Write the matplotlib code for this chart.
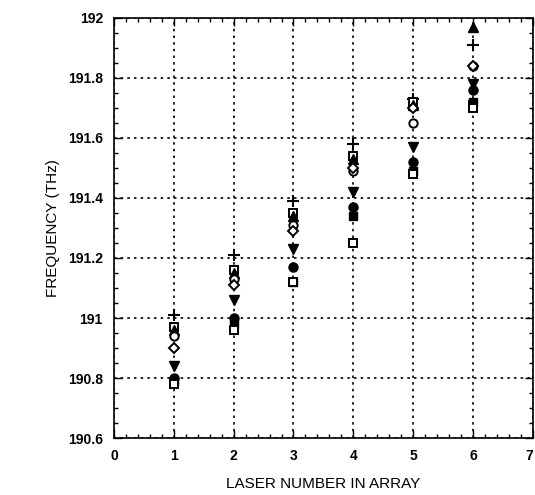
import matplotlib
matplotlib.use("Agg")
import matplotlib.pyplot as plt
from matplotlib.ticker import MultipleLocator, FuncFormatter

plt.rcParams['font.family'] = ['Liberation Sans', 'DejaVu Sans']

lasers = [1, 2, 3, 4, 5, 6]

s_plus = [191.01, 191.21, 191.39, 191.58, 191.73, 191.91]
s_open_sq = [190.97, 191.16, 191.35, 191.54, 191.72, 191.71]
s_tri_up = [190.96, 191.15, 191.34, 191.53, 191.71, 191.97]
s_open_circ = [190.94, 191.13, 191.31, 191.49, 191.65, 191.84]
s_open_diam = [190.90, 191.11, 191.29, 191.50, 191.70, 191.84]
s_tri_down = [190.84, 191.06, 191.23, 191.42, 191.57, 191.78]
s_fill_circ = [190.80, 191.00, 191.17, 191.37, 191.52, 191.76]
s_fill_sq = [190.79, 190.98, 191.12, 191.34, 191.49, 191.72]
s_open_sq2 = [190.78, 190.96, 191.12, 191.25, 191.48, 191.70]

x_ticks = [0, 1, 2, 3, 4, 5, 6, 7]
y_ticks = [190.6, 190.8, 191.0, 191.2, 191.4, 191.6, 191.8, 192.0]

fig = plt.figure(figsize=(5.35, 4.95), dpi=100)
ax = fig.add_axes([0.213, 0.115, 0.783, 0.849])

series = [
    (s_plus, dict(marker='+', color='black', markersize=8, mew=1.5, linestyle='none')),
    (s_open_sq, dict(marker='s', mfc='white', mec='black', markersize=6, mew=1.4, linestyle='none')),
    (s_tri_up, dict(marker='^', color='black', markersize=6.5, linestyle='none')),
    (s_open_circ, dict(marker='o', mfc='white', mec='black', markersize=6, mew=1.4, linestyle='none')),
    (s_open_diam, dict(marker='D', mfc='white', mec='black', markersize=5, mew=1.4, linestyle='none')),
    (s_tri_down, dict(marker='v', color='black', markersize=6.5, linestyle='none')),
    (s_fill_circ, dict(marker='o', color='black', markersize=6.5, linestyle='none')),
    (s_fill_sq, dict(marker='s', color='black', markersize=6, linestyle='none')),
    (s_open_sq2, dict(marker='s', mfc='white', mec='black', markersize=6, mew=1.4, linestyle='none')),
]
for vals, kw in series:
    ax.plot(lasers, vals, zorder=3, **kw)

ax.set_xlim(0, 7)
ax.set_ylim(190.6, 192.0)
ax.set_xticks(x_ticks)
ax.set_yticks(y_ticks)
ax.xaxis.set_minor_locator(MultipleLocator(0.2))
ax.yaxis.set_minor_locator(MultipleLocator(0.05))

def yfmt(v, pos):
    s = f"{v:.1f}"
    if s.endswith(".0"):
        s = s[:-2]
    return s
ax.yaxis.set_major_formatter(FuncFormatter(yfmt))

ax.grid(True, which='major', linestyle=(0, (1.5, 2.5)), color='black', linewidth=1.2)
ax.tick_params(which='both', direction='in', top=True, right=True, width=1.0, color='black')
ax.tick_params(which='major', length=6, labelsize=10, pad=8)
ax.tick_params(which='minor', length=3)
for lab in ax.get_xticklabels() + ax.get_yticklabels():
    lab.set_fontweight('bold')
ax.get_xticklabels()[-1].set_horizontalalignment('right')
for sp in ax.spines.values():
    sp.set_linewidth(1.2)

ax.set_xlabel('LASER NUMBER IN ARRAY', fontsize=11, labelpad=10)
ax.set_ylabel('FREQUENCY (THz)', fontsize=11, labelpad=6)

fig.savefig('out.png', dpi=100)
